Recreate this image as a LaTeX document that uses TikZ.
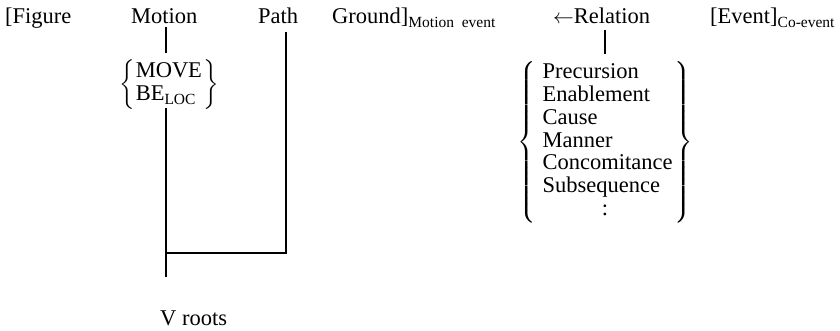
\documentclass[tikz,border=0pt]{standalone}
\usepackage{amsmath}
\usepackage{fontspec}
\setmainfont{Liberation Serif}
\newcommand{\bigtxt}{\fontsize{22.5}{22.8}\selectfont}
\newcommand{\subtxt}[1]{\raisebox{-4pt}{\fontsize{15.5}{16}\selectfont #1}}
\tikzset{
  lbl/.style={anchor=base west, inner sep=0pt, font=\bigtxt},
  branch/.style={line width=2pt},
  setbox/.style={inner sep=0pt, font=\bigtxt}
}
\begin{document}
\begin{tikzpicture}[x=1pt, y=-1pt]
  \useasboundingbox (0,0) rectangle (840,331);

  % top row: the formula
  \node[lbl] (fig) at (5,23.5) {[Figure};
  \node[lbl] (mot) at (131,23.5) {Motion};
  \node[lbl] (pth) at (258,23.5) {Path};
  \node[lbl] (gnd) at (332,23.5) {Ground]\subtxt{Motion~~event}};
  \node[lbl] (rel) at (553,23.5) {$\leftarrow$Relation};
  \node[lbl] (evt) at (710,23.5) {[Event]\subtxt{Co-event}};

  % the two choices for Motion
  \node[setbox, anchor=west] (mv) at (119,84.5)
    {$\left\{\begin{tabular}{@{\hspace{1pt}}l@{\hspace{1pt}}}MOVE\\BE\subtxt{LOC}\end{tabular}\right\}$};

  % the relation list
  \node[setbox, anchor=west] (rl) at (517,142.5)
    {$\left\{\begin{tabular}{@{\hspace{7pt}}l@{\hspace{2pt}}}Precursion\\Enablement\\Cause\\Manner\\Concomitance\\Subsequence\\\multicolumn{1}{c}{:}\end{tabular}\right\}$};

  % the verb root
  \node[lbl] (vr) at (160,325) {V roots};

  % connecting lines
  \coordinate (m1) at (165.5,27);
  \coordinate (m2) at (165.5,53);
  \coordinate (m3) at (165.5,108);
  \coordinate (m4) at (165.5,253);
  \coordinate (m5) at (165.5,277);
  \coordinate (p1) at (286,32);
  \coordinate (p2) at (286,253);
  \coordinate (r1) at (605,30);
  \coordinate (r2) at (605,54);
  \draw[branch] (m1) -- (m2);
  \draw[branch] (m3) -- (m5);
  \draw[branch] (p1) -- (p2) -- (m4);
  \draw[branch] (r1) -- (r2);
\end{tikzpicture}
\end{document}
